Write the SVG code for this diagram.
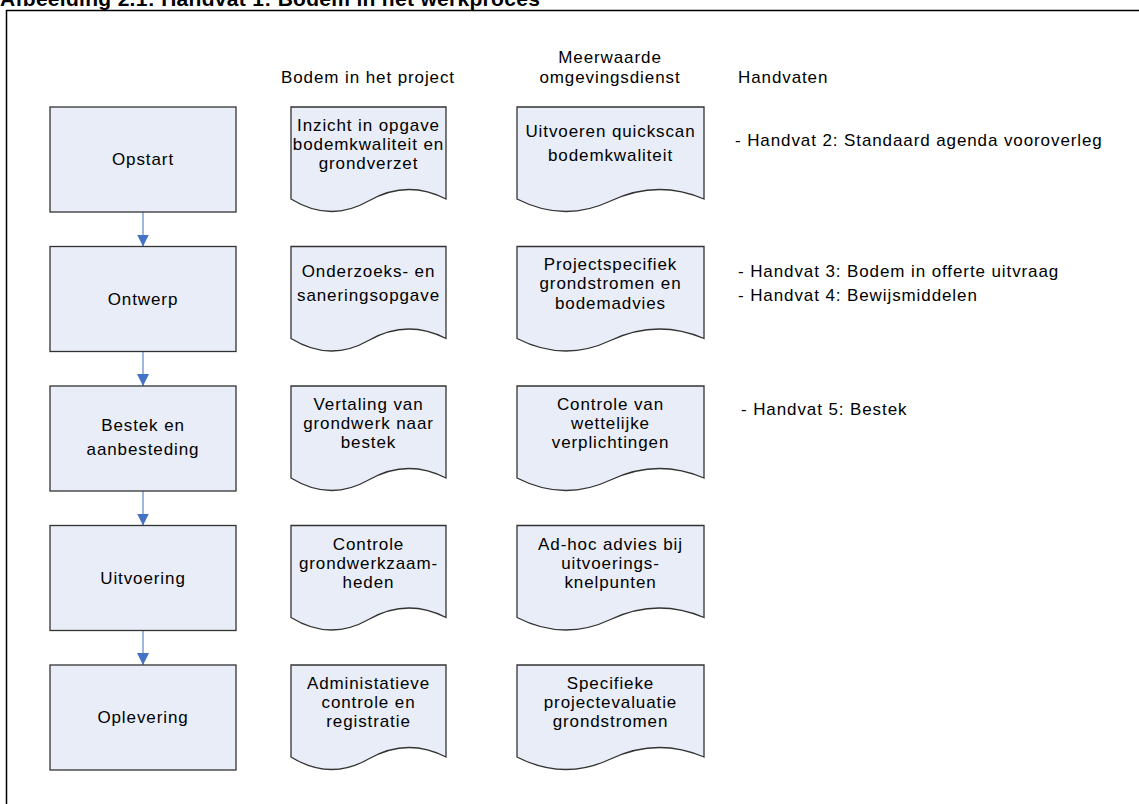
<svg xmlns="http://www.w3.org/2000/svg" width="1139" height="804" viewBox="0 0 1139 804">
<defs>
<style>
.t{font-family:"Liberation Sans",Arial,sans-serif;font-size:17px;letter-spacing:0.9px;fill:#000}
.c{text-anchor:middle}
.box{fill:#e8edf7;stroke:#333;stroke-width:1.3}
.doc{fill:#e8edf7;stroke:#333;stroke-width:1.3}
.ln{stroke:#7f9fd4;stroke-width:1.5;fill:none}
.title{font-family:"Liberation Sans",Arial,sans-serif;font-size:21px;font-weight:bold;letter-spacing:0.3px;fill:#000}
</style>
<marker id="ah" markerWidth="12" markerHeight="12" viewBox="0 0 12 12" refX="12" refY="6" orient="auto" markerUnits="userSpaceOnUse">
<path d="M0,0 L12,6 L0,12 Z" fill="#4472c4"/>
</marker>
<path id="docR1" d="M0,0 H1 V92 Q0.75,72 0.5,94 T0,92 Z"/>
</defs>
<rect width="1139" height="804" fill="#fff"/>
<text class="title" x="0" y="6">Afbeelding 2.1: Handvat 1: Bodem in het werkproces</text>
<path d="M6.5,804 V10.5 H1139" fill="none" stroke="#000" stroke-width="1.5"/>

<g id="headers">
<text class="t c" x="368" y="83">Bodem in het project</text>
<text class="t c" x="610" y="63">Meerwaarde</text>
<text class="t c" x="610" y="83">omgevingsdienst</text>
<text class="t" x="738" y="83">Handvaten</text>
</g>

<g id="connectors">
<path class="ln" d="M143,212 V246.5" marker-end="url(#ah)"/>
<path class="ln" d="M143,351.5 V386" marker-end="url(#ah)"/>
<path class="ln" d="M143,491 V525.5" marker-end="url(#ah)"/>
<path class="ln" d="M143,630.5 V665" marker-end="url(#ah)"/>
</g>

<g id="opstart"><rect class="box" x="50" y="107" width="186" height="105"/><text class="t c" x="143" y="165">Opstart</text></g>
<g id="ontwerp"><rect class="box" x="50" y="246.5" width="186" height="105"/><text class="t c" x="143" y="304.5">Ontwerp</text></g>
<g id="bestek"><rect class="box" x="50" y="386" width="186" height="105"/><text class="t c" x="143" y="431">Bestek en</text><text class="t c" x="143" y="455">aanbesteding</text></g>
<g id="uitvoering"><rect class="box" x="50" y="525.5" width="186" height="105"/><text class="t c" x="143" y="583.5">Uitvoering</text></g>
<g id="oplevering"><rect class="box" x="50" y="665" width="186" height="105"/><text class="t c" x="143" y="723">Oplevering</text></g>

<g id="doc-1-1"><path class="doc" d="M291,107 H446 V199 Q407,179 368.5,201 T291,199 Z"/>
<text class="t c" x="368.5" y="131">Inzicht in opgave</text><text class="t c" x="368.5" y="150">bodemkwaliteit en</text><text class="t c" x="368.5" y="169">grondverzet</text></g>
<g id="doc-1-2"><path class="doc" d="M517,107 H704 V199 Q657,179 610.5,201 T517,199 Z"/>
<text class="t c" x="610.5" y="137">Uitvoeren quickscan</text><text class="t c" x="610.5" y="161">bodemkwaliteit</text></g>

<g id="doc-2-1"><path class="doc" d="M291,246.5 H446 V338.5 Q407,318.5 368.5,340.5 T291,338.5 Z"/>
<text class="t c" x="368.5" y="276.5">Onderzoeks- en</text><text class="t c" x="368.5" y="300.5">saneringsopgave</text></g>
<g id="doc-2-2"><path class="doc" d="M517,246.5 H704 V338.5 Q657,318.5 610.5,340.5 T517,338.5 Z"/>
<text class="t c" x="610.5" y="269.5">Projectspecifiek</text><text class="t c" x="610.5" y="289">grondstromen en</text><text class="t c" x="610.5" y="308.5">bodemadvies</text></g>

<g id="doc-3-1"><path class="doc" d="M291,386 H446 V478 Q407,458 368.5,480 T291,478 Z"/>
<text class="t c" x="368.5" y="410">Vertaling van</text><text class="t c" x="368.5" y="429">grondwerk naar</text><text class="t c" x="368.5" y="448">bestek</text></g>
<g id="doc-3-2"><path class="doc" d="M517,386 H704 V478 Q657,458 610.5,480 T517,478 Z"/>
<text class="t c" x="610.5" y="410">Controle van</text><text class="t c" x="610.5" y="429">wettelijke</text><text class="t c" x="610.5" y="448">verplichtingen</text></g>

<g id="doc-4-1"><path class="doc" d="M291,525.5 H446 V617.5 Q407,597.5 368.5,619.5 T291,617.5 Z"/>
<text class="t c" x="368.5" y="549.5">Controle</text><text class="t c" x="368.5" y="568.5">grondwerkzaam-</text><text class="t c" x="368.5" y="587.5">heden</text></g>
<g id="doc-4-2"><path class="doc" d="M517,525.5 H704 V617.5 Q657,597.5 610.5,619.5 T517,617.5 Z"/>
<text class="t c" x="610.5" y="549.5">Ad-hoc advies bij</text><text class="t c" x="610.5" y="568.5">uitvoerings-</text><text class="t c" x="610.5" y="587.5">knelpunten</text></g>

<g id="doc-5-1"><path class="doc" d="M291,665 H446 V757 Q407,737 368.5,759 T291,757 Z"/>
<text class="t c" x="368.5" y="689">Administatieve</text><text class="t c" x="368.5" y="708">controle en</text><text class="t c" x="368.5" y="727">registratie</text></g>
<g id="doc-5-2"><path class="doc" d="M517,665 H704 V757 Q657,737 610.5,759 T517,757 Z"/>
<text class="t c" x="610.5" y="689">Specifieke</text><text class="t c" x="610.5" y="708">projectevaluatie</text><text class="t c" x="610.5" y="727">grondstromen</text></g>

<g id="handvaten">
<text class="t" x="735" y="146">- Handvat 2: Standaard agenda vooroverleg</text>
<text class="t" x="738" y="277">- Handvat 3: Bodem in offerte uitvraag</text>
<text class="t" x="738" y="301">- Handvat 4: Bewijsmiddelen</text>
<text class="t" x="741" y="415">- Handvat 5: Bestek</text>
</g>
</svg>
